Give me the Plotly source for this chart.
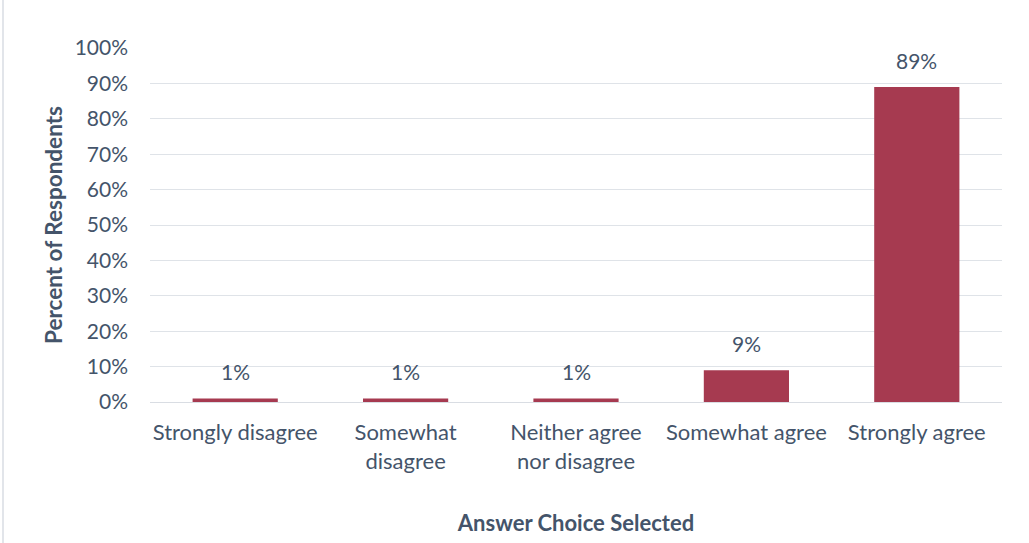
import plotly.graph_objects as go

categories = ["Strongly disagree", "Somewhat<br>disagree", "Neither agree<br>nor disagree",
              "Somewhat agree", "Strongly agree"]
values = [1, 1, 1, 9, 89]
labels = ["1%", "1%", "1%", "9%", "89%"]
tick_vals = list(range(0, 101, 10))
tick_text = [f"{v}%" for v in tick_vals]

txt = "#44546a"
font = "Lato, 'Open Sans', sans-serif"
fs = 21

fig = go.Figure(go.Bar(
    x=categories, y=values,
    marker=dict(color="#a63a50", line=dict(width=0)),
    width=0.5, cliponaxis=False,
))

annotations = [dict(x=c, y=v, xref="x", yref="y", text=t, showarrow=False,
                    yanchor="bottom", yshift=12, font=dict(size=fs, color=txt, family=font))
               for c, v, t in zip(categories, values, labels)]

fig.update_layout(
    width=1029, height=543,
    margin=dict(l=150, r=27, t=48, b=141),
    plot_bgcolor="white", paper_bgcolor="white",
    font=dict(family=font, color=txt, size=fs),
    showlegend=False,
    annotations=annotations,
    xaxis=dict(tickfont=dict(size=22, color=txt), ticks="", showgrid=False,
               showline=True, linecolor="#d9dde3", linewidth=1, ticklabelstandoff=11,
               title=dict(text="<b>Answer Choice Selected</b>", font=dict(size=22, color=txt), standoff=42)),
    yaxis=dict(range=[0, 100], tickvals=tick_vals, ticktext=tick_text,
               tickfont=dict(size=fs, color=txt), gridcolor="#dfe3e8", gridwidth=1,
               zeroline=False, ticklabelstandoff=21,
               title=dict(text="<b>Percent of Respondents</b>", font=dict(size=22.5, color=txt), standoff=5)),
    shapes=[dict(type="line", xref="paper", yref="paper", x0=(3 - 150) / 852, x1=(3 - 150) / 852,
                 y0=-141 / 354, y1=402 / 354, line=dict(color="#d9dde3", width=1.5))],
)

fig.write_html("out.html")
